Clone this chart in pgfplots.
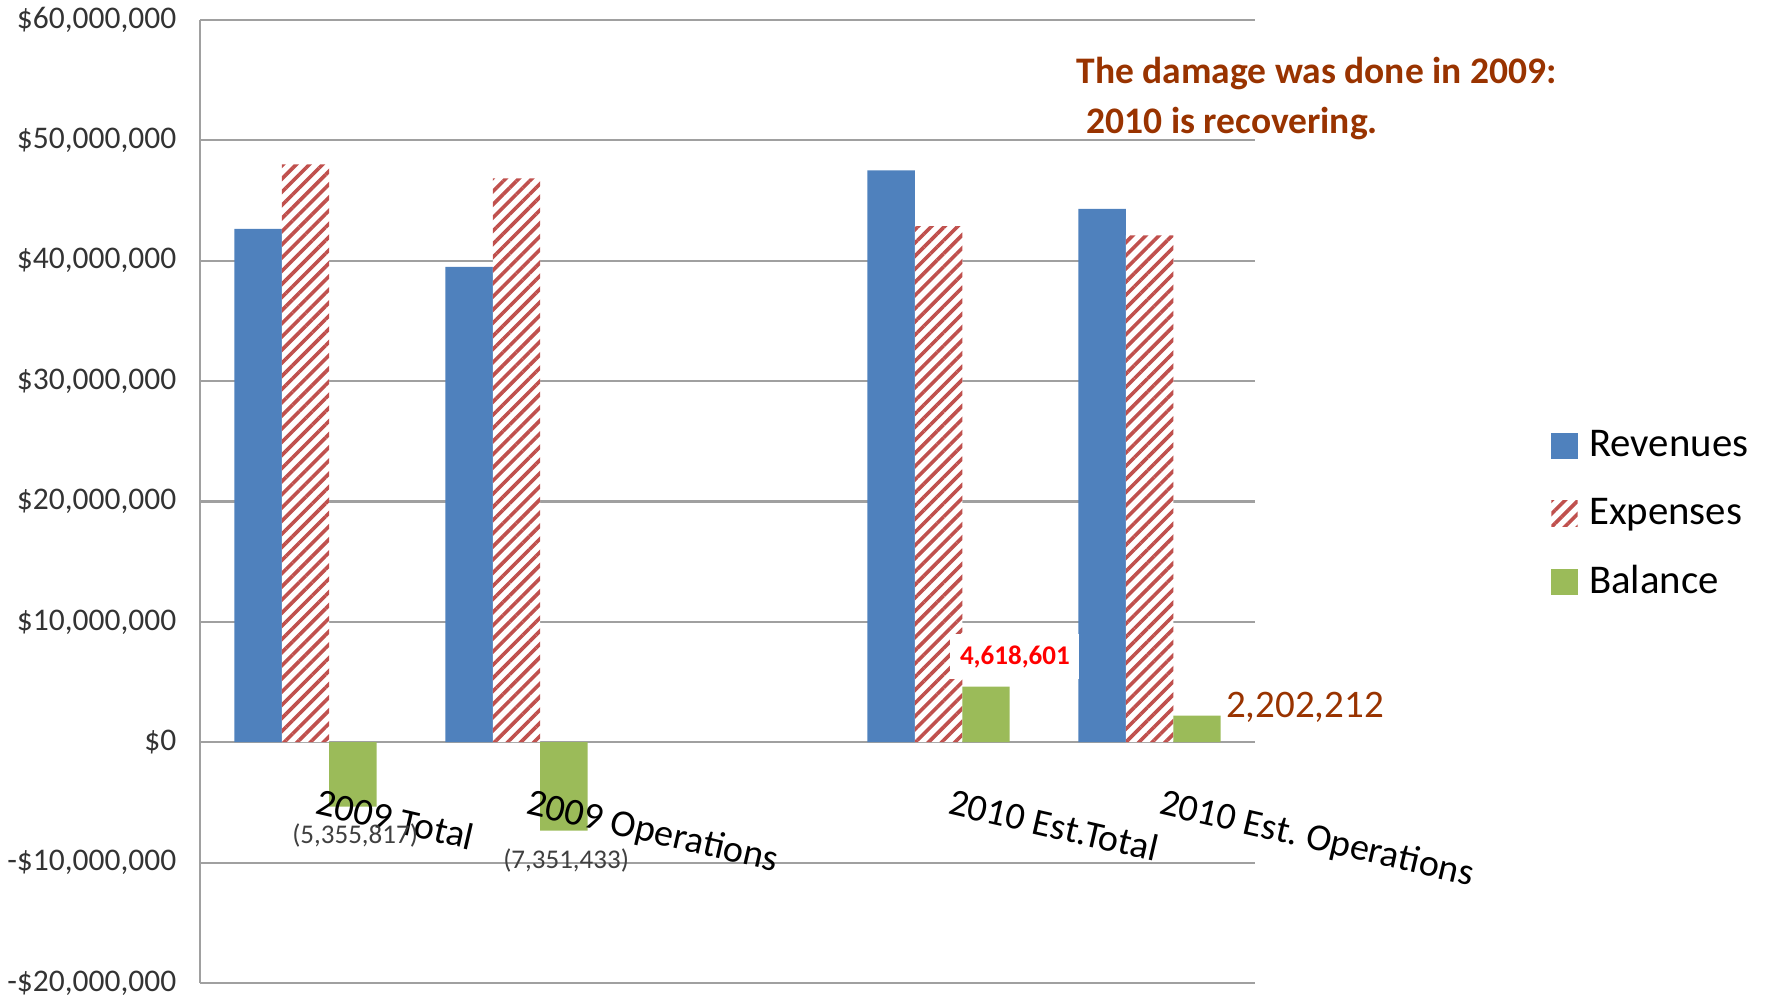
\documentclass[border=0pt]{standalone}
\usepackage{pgfplots}
\pgfplotsset{compat=1.18}
\usepackage{fontspec}
\setmainfont{Carlito}
\usetikzlibrary{patterns.meta}
\definecolor{revblue}{RGB}{79,129,189}
\definecolor{exred}{RGB}{192,80,77}
\definecolor{balgreen}{RGB}{155,187,89}
\definecolor{anncolor}{RGB}{153,51,0}
\definecolor{gridgray}{RGB}{160,160,160}
\begin{document}
\begin{tikzpicture}
\useasboundingbox (-66.67pt,-5.67pt) rectangle (523.33pt,327.67pt);
\begin{axis}[
  at={(0pt,0pt)}, anchor=south west,
  scale only axis, width=351.67pt, height=321pt,
  xmin=-0.5, xmax=4.5, ymin=-20000000, ymax=60000000,
  ybar, bar width=0.225,
  legend image code/.code={\fill[#1] (0pt,-4.3pt) rectangle (8.7pt,4.3pt);},
  axis x line*=bottom, axis y line*=left,
  axis line style={gridgray, line width=0.7pt},
  ymajorgrids, grid style={gridgray, line width=0.7pt},
  tick style={draw=none},
  scaled y ticks=false,
  xtick={0,1,3,4},
  xticklabels={},
  ytick={-20000000,-10000000,0,10000000,20000000,30000000,40000000,50000000,60000000},
  yticklabels={{-\$20,000,000},{-\$10,000,000},{\$0},{\$10,000,000},{\$20,000,000},{\$30,000,000},{\$40,000,000},{\$50,000,000},{\$60,000,000}},
  yticklabel style={anchor=east, inner sep=0pt, xshift=-7.7pt, font=\fontsize{10.5}{12}\selectfont, text=black!80},
  legend style={at={(1.2804,0.4865)}, anchor=west, draw=none, fill=none, font=\fontsize{13.6}{15}\selectfont, inner sep=0pt, row sep=8.3pt, /tikz/every odd column/.append style={column sep=1.9pt}},
  legend cell align=left,
  clip=false,
]
\addplot[fill=revblue, draw=none, bar shift=-0.225] coordinates {(0,42650000) (1,39500000) (3,47500000) (4,44300000)};
\addplot[fill=white, draw=none, bar shift=0, postaction={pattern={Lines[angle=45,distance=3.1pt,line width=1.2pt]}, pattern color=exred}] coordinates {(0,48005817) (1,46851433) (3,42881399) (4,42097788)};
\addplot[fill=balgreen, draw=none, bar shift=0.225] coordinates {(0,-5355817) (1,-7351433) (3,4618601) (4,2202212)};
\legend{Revenues, Expenses, Balance}
\node[anchor=north west, rotate=-13, inner sep=0pt, font=\fontsize{12.7}{15}\selectfont] at (axis cs:0.0668,-3.75e6) {2009 Total};
\node[anchor=north west, rotate=-13, inner sep=0pt, font=\fontsize{12.7}{15}\selectfont] at (axis cs:1.0668,-3.75e6) {2009 Operations};
\node[anchor=north west, rotate=-13, inner sep=0pt, font=\fontsize{12.7}{15}\selectfont] at (axis cs:3.0668,-3.75e6) {2010 Est.Total};
\node[anchor=north west, rotate=-13, inner sep=0pt, font=\fontsize{12.7}{15}\selectfont] at (axis cs:4.0668,-3.75e6) {2010 Est.\ Operations};
\node[font=\fontsize{9}{10}\selectfont, text=black!75] at (axis cs:0.235,-7.72e6) {(5,355,817)};
\node[font=\fontsize{9}{10}\selectfont, text=black!75] at (axis cs:1.235,-9.8e6) {(7,351,433)};
\node[fill=white, minimum width=43pt, minimum height=15pt, inner sep=0pt, font=\bfseries\fontsize{9}{10}\selectfont, text=red] at (axis cs:3.362,7.1e6) {4,618,601};
\node[font=\fontsize{13}{15}\selectfont, text=anncolor, inner sep=0pt] at (axis cs:4.737,2.92e6) {2,202,212};
\node[anchor=west, inner sep=0pt, text=anncolor, font=\bfseries\fontsize{12.5}{15}\selectfont] at (axis cs:3.652,55.58e6) {The damage was done in 2009:};
\node[anchor=west, inner sep=0pt, text=anncolor, font=\bfseries\fontsize{12.5}{15}\selectfont] at (axis cs:3.699,51.42e6) {2010 is recovering.};
\end{axis}
\end{tikzpicture}
\end{document}
